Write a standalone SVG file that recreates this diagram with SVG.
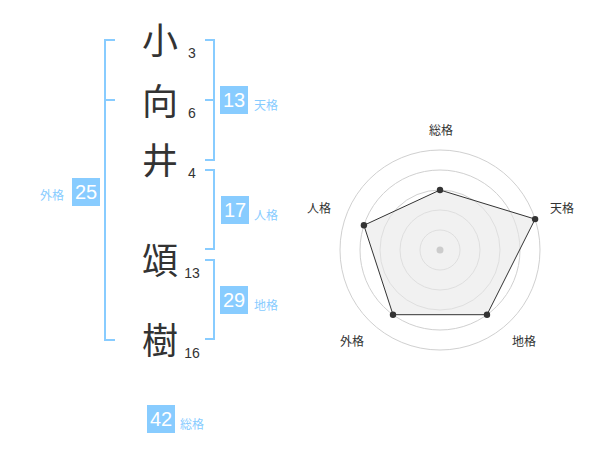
<svg xmlns="http://www.w3.org/2000/svg" width="600" height="470" viewBox="0 0 600 470">
<style>
.kanji{font-family:"Noto Sans CJK JP","Noto Sans CJK SC",sans-serif;font-size:36px;fill:#333;text-anchor:middle}
.strk{font-family:"Liberation Sans",Arial,sans-serif;font-size:14px;fill:#333;text-anchor:middle}
.br{fill:none;stroke:#88CCFF;stroke-width:2}
.box{fill:#88CCFF}
.num{font-family:"Liberation Sans",Arial,sans-serif;font-size:20px;fill:#fff;text-anchor:middle}
.lbl{font-family:"Noto Sans CJK JP","Noto Sans CJK SC",sans-serif;font-size:12px;fill:#88CCFF}
.ring{fill:none;stroke:#d0d0d0;stroke-width:1}
.axl{font-family:"Noto Sans CJK JP","Noto Sans CJK SC",sans-serif;font-size:12px;fill:#333;text-anchor:middle}
</style>
<rect width="600" height="470" fill="#fff"/>
<g id="name">
  <g id="c1"><text class="kanji" x="160" y="54">小</text><text class="strk" x="192" y="58">3</text></g>
  <g id="c2"><text class="kanji" x="160" y="115">向</text><text class="strk" x="192" y="118">6</text></g>
  <g id="c3"><text class="kanji" x="160" y="174">井</text><text class="strk" x="192" y="178">4</text></g>
  <g id="c4"><text class="kanji" x="160" y="274">頌</text><text class="strk" x="192" y="278">13</text></g>
  <g id="c5"><text class="kanji" x="160" y="354">樹</text><text class="strk" x="192" y="358">16</text></g>
</g>
<g id="connectors">
  <path class="br" d="M115,40 H105 V340 H115 M105,100 H115"/>
  <path class="br" d="M205,40 H214 V160 H205 M205,100 H214"/>
  <path class="br" d="M205,170 H214 V249 H205"/>
  <path class="br" d="M205,260 H214 V339 H205"/>
</g>
<g id="tenkaku"><rect class="box" x="220" y="86" width="28" height="28"/><text class="num" x="234" y="107">13</text><text class="lbl" x="254" y="110">天格</text></g>
<g id="jinkaku"><rect class="box" x="221" y="196" width="28" height="28"/><text class="num" x="235" y="217">17</text><text class="lbl" x="254" y="220">人格</text></g>
<g id="chikaku"><rect class="box" x="220" y="286" width="28" height="28"/><text class="num" x="234" y="307">29</text><text class="lbl" x="254" y="310">地格</text></g>
<g id="gaikaku"><rect class="box" x="72" y="178" width="28" height="28"/><text class="num" x="86" y="199">25</text><text class="lbl" x="64" y="200" text-anchor="end">外格</text></g>
<g id="soukaku"><rect class="box" x="147" y="405" width="28" height="28"/><text class="num" x="161" y="426">42</text><text class="lbl" x="180" y="429">総格</text></g>
<g id="radar">
  <circle class="ring" cx="440" cy="250" r="20"/>
  <circle class="ring" cx="440" cy="250" r="40"/>
  <circle class="ring" cx="440" cy="250" r="60"/>
  <circle class="ring" cx="440" cy="250" r="80"/>
  <circle class="ring" cx="440" cy="250" r="100"/>
  <polygon points="440,190 535.1,219.1 487,314.7 393,314.7 363.9,225.3" fill="#e8e8e8" fill-opacity="0.6" stroke="#333" stroke-width="1"/>
  <circle cx="440" cy="250" r="3.5" fill="#ccc"/>
  <g fill="#333">
    <circle cx="440" cy="190" r="3.2"/>
    <circle cx="535.1" cy="219.1" r="3.2"/>
    <circle cx="487" cy="314.7" r="3.2"/>
    <circle cx="393" cy="314.7" r="3.2"/>
    <circle cx="363.9" cy="225.3" r="3.2"/>
  </g>
  <text class="axl" x="441" y="135">総格</text>
  <text class="axl" x="562" y="213">天格</text>
  <text class="axl" x="319" y="213">人格</text>
  <text class="axl" x="352" y="346">外格</text>
  <text class="axl" x="524" y="346">地格</text>
</g>
</svg>
